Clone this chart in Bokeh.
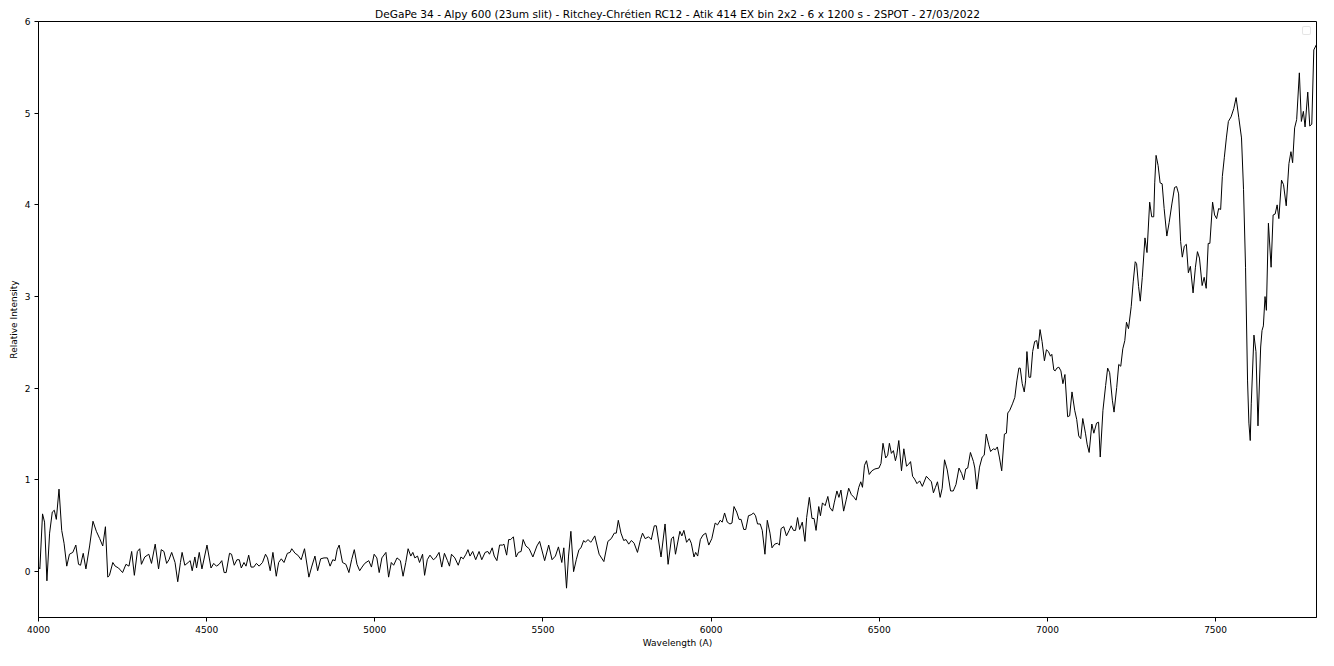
from bokeh.plotting import figure
from bokeh.models import Range1d, FixedTicker, Legend, LegendItem
from bokeh.core.properties import value
from bokeh.embed import file_html
from bokeh.resources import INLINE

title_text = "DeGaPe 34 - Alpy 600 (23um slit) - Ritchey-Chrétien RC12 - Atik 414 EX bin 2x2 - 6 x 1200 s - 2SPOT - 27/03/2022"
x_label = "Wavelength (A)"
y_label = "Relative Intensity"
x_ticks = [4000, 4500, 5000, 5500, 6000, 6500, 7000, 7500]
y_ticks = [0, 1, 2, 3, 4, 5, 6]

wavelength_blue = [
    4001, 4004, 4012, 4018, 4025, 4033, 4041, 4047, 4053, 4061, 4069, 4076, 4084, 4092, 4102,
    4111, 4119, 4125, 4133, 4141, 4152, 4162, 4172, 4182, 4191, 4199, 4206, 4211, 4221, 4228,
    4238, 4250, 4260, 4269, 4277, 4285, 4294, 4301, 4306, 4316, 4328, 4336, 4347, 4357, 4365,
    4373, 4381, 4388, 4396, 4406, 4414, 4422, 4427, 4435, 4445, 4451, 4457, 4465, 4470, 4478,
    4486, 4501, 4513, 4521, 4529, 4537, 4545, 4552, 4558, 4568, 4574, 4582, 4590, 4597, 4603,
    4611, 4617, 4625, 4632, 4640, 4648, 4656, 4666, 4675, 4681, 4689, 4697, 4707, 4714, 4722,
    4730, 4740, 4748, 4753, 4763, 4771, 4781, 4791, 4804, 4812, 4822, 4830, 4839, 4849, 4859,
    4867, 4875, 4882, 4888, 4894, 4904, 4914, 4923, 4931, 4939, 4947, 4955, 4962, 4970,
]
intensity_blue = [
    0.05, 0.03, 0.63, 0.54, -0.10, 0.42, 0.65, 0.67, 0.57, 0.90, 0.45, 0.31, 0.06, 0.19, 0.21,
    0.29, 0.08, 0.07, 0.20, 0.03, 0.28, 0.55, 0.44, 0.36, 0.28, 0.49, -0.06, -0.04, 0.10, 0.06,
    0.04, -0.01, 0.08, 0.06, 0.22, -0.04, 0.22, 0.25, 0.08, 0.16, 0.19, 0.09, 0.30, 0.03, 0.24,
    0.22, 0.09, 0.13, 0.21, 0.10, -0.11, 0.10, 0.21, 0.07, 0.10, 0.12, 0.01, 0.16, 0.04, 0.21,
    0.03, 0.29, 0.04, 0.09, 0.06, 0.08, 0.12, -0.01, -0.01, 0.20, 0.19, 0.07, 0.13, 0.13, 0.04,
    0.10, 0.06, 0.18, 0.05, 0.05, 0.09, 0.06, 0.10, 0.19, 0.15, 0.01, 0.21, -0.05, 0.10, 0.14,
    0.10, 0.20, 0.21, 0.25, 0.20, 0.18, 0.13, 0.25, -0.06, 0.05, 0.17, 0.01, 0.14, 0.15, 0.15,
    0.06, 0.13, 0.12, 0.24, 0.29, 0.10, 0.08, -0.01, 0.13, 0.24, 0.08, 0.01, 0.05, 0.09,
]

wavelength_green = [
    4982, 4990, 4998, 5006, 5013, 5021, 5033, 5041, 5049, 5056, 5066, 5076, 5084, 5092, 5099,
    5107, 5113, 5119, 5127, 5133, 5142, 5148, 5156, 5164, 5174, 5181, 5191, 5199, 5207, 5216,
    5222, 5228, 5238, 5248, 5256, 5263, 5271, 5277, 5283, 5291, 5300, 5310, 5318, 5328, 5336,
    5341, 5349, 5355, 5363, 5371, 5380, 5384, 5392, 5398, 5404, 5412, 5420, 5427, 5435, 5441,
    5449, 5459, 5470, 5482, 5490, 5505, 5517, 5527, 5537, 5546, 5556, 5562, 5570, 5576, 5583,
    5591, 5599, 5607, 5613, 5621, 5626, 5634, 5642, 5646, 5654, 5667, 5681, 5693, 5703, 5712,
    5718, 5724, 5732, 5740, 5747, 5755, 5763, 5771, 5781, 5790, 5796, 5804, 5814, 5822, 5831,
    5837, 5851, 5863, 5872, 5882, 5888, 5894, 5907, 5913, 5919, 5927, 5935, 5941, 5949, 5954,
    5960, 5968, 5976, 5984, 5993,
]
intensity_green = [
    0.12, 0.05, 0.19, 0.15, -0.01, 0.15, 0.21, -0.06, 0.10, 0.07, 0.15, 0.12, -0.05, 0.10, 0.25,
    0.17, 0.21, 0.15, 0.17, 0.10, 0.19, -0.04, 0.13, 0.18, 0.13, 0.15, 0.21, 0.05, 0.20, 0.12,
    0.06, 0.19, 0.15, 0.07, 0.16, 0.14, 0.19, 0.24, 0.17, 0.22, 0.13, 0.22, 0.13, 0.21, 0.22,
    0.19, 0.26, 0.17, 0.12, 0.29, 0.29, 0.30, 0.18, 0.35, 0.35, 0.38, 0.16, 0.21, 0.22, 0.35,
    0.28, 0.25, 0.16, 0.28, 0.33, 0.12, 0.29, 0.13, 0.17, 0.27, 0.10, 0.26, -0.18, 0.17, 0.44,
    0.00, 0.13, 0.24, 0.26, 0.34, 0.32, 0.35, 0.32, 0.34, 0.39, 0.19, 0.11, 0.33, 0.36, 0.42,
    0.42, 0.56, 0.42, 0.34, 0.35, 0.30, 0.34, 0.31, 0.21, 0.35, 0.42, 0.36, 0.38, 0.35, 0.50,
    0.50, 0.16, 0.52, 0.08, 0.36, 0.38, 0.19, 0.44, 0.39, 0.45, 0.32, 0.36, 0.31, 0.16, 0.21,
    0.17, 0.35, 0.40, 0.42, 0.29,
]

wavelength_red = [
    6002, 6012, 6019, 6027, 6033, 6040, 6048, 6056, 6062, 6068, 6076, 6083, 6089, 6097, 6103,
    6111, 6119, 6126, 6132, 6138, 6146, 6152, 6160, 6167, 6175, 6181, 6189, 6197, 6203, 6208,
    6216, 6224, 6232, 6238, 6245, 6251, 6257, 6263, 6271, 6279, 6284, 6292, 6300, 6306, 6312,
    6320, 6325, 6331, 6339, 6347, 6353, 6361, 6366, 6374, 6380, 6386, 6394, 6402, 6409, 6417,
    6425, 6431, 6439, 6445, 6450, 6456, 6462, 6470, 6478, 6487, 6499, 6505, 6511, 6519, 6525,
    6530, 6536, 6542, 6548, 6552, 6558, 6566, 6573, 6581, 6587, 6593, 6599, 6605, 6612, 6620,
    6628, 6640, 6650, 6655, 6661, 6667, 6673, 6681, 6687, 6694, 6702, 6712, 6720, 6728, 6737,
    6745, 6751, 6757, 6763, 6771, 6780, 6784, 6790, 6798, 6806, 6812, 6818, 6825, 6831, 6839,
    6845, 6851, 6857, 6864, 6872, 6878, 6882, 6888, 6896, 6903, 6909, 6915, 6919, 6925, 6931,
    6935, 6939, 6945, 6950, 6956, 6962, 6968, 6972, 6978, 6984, 6991, 6997, 7003, 7009, 7013,
    7019, 7023, 7028, 7034, 7040, 7046, 7052,
]
intensity_red = [
    0.36, 0.53, 0.51, 0.56, 0.54, 0.64, 0.54, 0.52, 0.53, 0.71, 0.65, 0.57, 0.57, 0.46, 0.46,
    0.61, 0.62, 0.64, 0.61, 0.52, 0.52, 0.45, 0.19, 0.56, 0.42, 0.26, 0.30, 0.31, 0.29, 0.47,
    0.49, 0.39, 0.45, 0.50, 0.45, 0.45, 0.59, 0.46, 0.54, 0.33, 0.59, 0.81, 0.58, 0.58, 0.45,
    0.71, 0.61, 0.75, 0.72, 0.82, 0.70, 0.66, 0.75, 0.88, 0.81, 0.89, 0.66, 0.79, 0.91, 0.84,
    0.81, 0.78, 0.92, 0.98, 0.92, 1.16, 1.21, 1.06, 1.10, 1.12, 1.13, 1.18, 1.40, 1.24, 1.27,
    1.40, 1.29, 1.32, 1.21, 1.27, 1.43, 1.10, 1.34, 1.15, 1.17, 1.20, 1.04, 1.01, 0.96, 0.99,
    0.93, 1.04, 1.00, 0.98, 0.86, 0.92, 0.98, 0.81, 0.91, 1.22, 1.11, 0.88, 0.88, 0.95, 1.13,
    1.07, 1.00, 1.12, 1.13, 1.30, 1.20, 1.13, 0.90, 1.14, 1.25, 1.27, 1.50, 1.39, 1.31, 1.34,
    1.33, 1.36, 1.25, 1.10, 1.50, 1.51, 1.73, 1.76, 1.83, 1.90, 2.08, 2.22, 2.22, 2.05, 1.96,
    2.08, 2.40, 2.12, 2.12, 2.40, 2.51, 2.52, 2.43, 2.64, 2.51, 2.30, 2.42, 2.40, 2.35, 2.37,
    2.20, 2.19, 2.22, 2.23, 2.19, 2.05, 2.15,
]

wavelength_nir = [
    7060, 7066, 7073, 7081, 7087, 7093, 7099, 7105, 7113, 7118, 7124, 7132, 7138, 7146, 7152,
    7157, 7165, 7173, 7179, 7185, 7193, 7198, 7206, 7212, 7218, 7224, 7230, 7235, 7241, 7249,
    7255, 7261, 7265, 7271, 7276, 7282, 7290, 7296, 7304, 7310, 7316, 7319, 7323, 7329, 7335,
    7341, 7347, 7355, 7362, 7370, 7378, 7384, 7390, 7396, 7401, 7407, 7413, 7419, 7425, 7433,
    7440, 7446, 7452, 7460, 7466, 7472, 7478, 7483, 7491, 7497, 7503, 7509, 7515, 7520, 7526,
    7532, 7538, 7546, 7554, 7561, 7569, 7577, 7583, 7589, 7595, 7599, 7603, 7606, 7614, 7620,
    7626, 7634, 7638, 7642, 7647, 7651, 7657, 7665, 7671, 7677, 7683, 7688, 7696, 7702, 7710,
    7718, 7724, 7729, 7735, 7741, 7749, 7755, 7761, 7766, 7774, 7780, 7786, 7792, 7800,
]
intensity_nir = [
    1.69, 1.70, 1.96, 1.76, 1.66, 1.48, 1.45, 1.67, 1.51, 1.39, 1.30, 1.61, 1.51, 1.62, 1.63,
    1.25, 1.76, 2.03, 2.22, 2.17, 1.87, 1.74, 2.01, 2.26, 2.24, 2.43, 2.52, 2.72, 2.65, 2.89,
    3.16, 3.38, 3.36, 3.11, 2.95, 3.21, 3.64, 3.48, 4.03, 3.87, 3.87, 4.24, 4.54, 4.43, 4.24,
    4.23, 3.96, 3.66, 3.81, 4.01, 4.19, 4.20, 4.12, 3.60, 3.43, 3.55, 3.57, 3.26, 3.33, 3.04,
    3.32, 3.49, 3.42, 3.12, 3.21, 3.09, 3.58, 3.58, 4.03, 3.89, 3.85, 3.96, 3.95, 4.31, 4.52,
    4.73, 4.91, 4.96, 5.05, 5.17, 4.95, 4.73, 4.17, 3.32, 2.08, 1.62, 1.43, 1.83, 2.58, 2.40,
    1.59, 2.45, 2.63, 2.68, 3.00, 2.85, 3.80, 3.32, 3.89, 3.90, 4.00, 3.85, 4.27, 4.22, 3.99,
    4.45, 4.58, 4.46, 4.84, 4.93, 5.44, 4.91, 5.02, 4.85, 5.23, 4.86, 4.88, 5.69, 5.75,
]

wavelength = wavelength_blue + wavelength_green + wavelength_red + wavelength_nir
intensity = intensity_blue + intensity_green + intensity_red + intensity_nir

FONT = "DejaVu Sans"

p = figure(width=1318, height=650, output_backend="svg", toolbar_location=None,
           x_range=Range1d(4000, 7800), y_range=Range1d(-0.5, 6),
           min_border_left=38, min_border_right=2, min_border_top=21, min_border_bottom=32)
p.title.text = title_text
p.title.align = "center"
p.title.text_font = FONT
p.title.text_font_size = "10.6px"
p.title.text_font_style = "normal"
p.title.text_color = "black"
p.title.offset = 0
p.title.standoff = 4

p.line(wavelength, intensity, line_color="black", line_width=1)

dummy = p.line([], [], line_alpha=0)
legend = Legend(items=[LegendItem(label=value(""), renderers=[dummy])], location="top_right",
                padding=3, spacing=0, margin=5, glyph_width=1, glyph_height=1,
                label_width=0, label_height=0, label_standoff=0, label_text_font_size="1px",
                border_line_color="#cccccc", border_line_width=1, border_radius=2,
                background_fill_color="white", background_fill_alpha=0.8)
p.add_layout(legend)

p.xgrid.visible = False
p.ygrid.visible = False
p.outline_line_color = "black"
p.outline_line_width = 1

for ax in (p.xaxis[0], p.yaxis[0]):
    ax.major_label_text_font = FONT
    ax.major_label_text_font_size = "9px"
    ax.major_label_text_color = "black"
    ax.axis_label_text_font = FONT
    ax.axis_label_text_font_size = "9px"
    ax.axis_label_text_font_style = "normal"
    ax.axis_label_text_color = "black"
    ax.axis_line_color = "black"
    ax.major_tick_line_color = "black"
    ax.major_tick_out = 4
    ax.major_tick_in = 0
    ax.minor_tick_out = 0
    ax.minor_tick_in = 0
    ax.major_label_standoff = 4

p.xaxis[0].axis_label_standoff = 2
p.yaxis[0].axis_label_standoff = 3
p.xaxis[0].ticker = FixedTicker(ticks=x_ticks)
p.yaxis[0].ticker = FixedTicker(ticks=y_ticks)
p.xaxis[0].axis_label = x_label
p.yaxis[0].axis_label = y_label

open("out.html", "w").write(file_html(p, INLINE))
